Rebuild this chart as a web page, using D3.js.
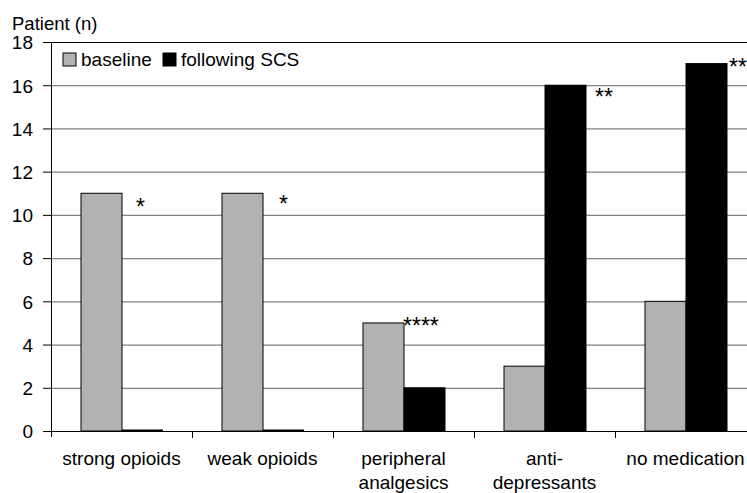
<!DOCTYPE html>
<html>
<head>
<meta charset="utf-8">
<script src="https://cdn.jsdelivr.net/npm/d3@7"></script>
<style>
  body { margin: 0; background: #fff; }
  svg { display: block; font-family: "Liberation Sans", Arial, sans-serif; }
</style>
</head>
<body>
<div id="chart"></div>
<script>
// chart data
var categories = ['strong opioids', 'weak opioids', 'peripheral analgesics', 'anti-depressants', 'no medication'];
var catLines = [['strong opioids'], ['weak opioids'], ['peripheral', 'analgesics'], ['anti-', 'depressants'], ['no medication']];
var seriesNames = ['baseline', 'following SCS'];
var baseline = [11, 11, 5, 3, 6];
var followingSCS = [0, 0, 2, 16, 17];
var yTicks = [0, 2, 4, 6, 8, 10, 12, 14, 16, 18];
var stars = ['*', '*', '****', '**', '**'];
var starLevel = [11, 11, 5, 16, 17];

var width = 747, height = 493;
var margin = { top: 42, right: -9, bottom: 62, left: 51 };

var svg = d3.select('#chart').append('svg')
  .attr('width', width)
  .attr('height', height);

// scales
var x0 = d3.scaleBand().domain(categories).range([margin.left, width - margin.right]).padding(0);
var x1 = d3.scaleBand().domain(seriesNames).range([30, 30 + 82]).padding(0);
var y = d3.scaleLinear().domain([0, 18]).range([height - margin.bottom, margin.top]);
var color = d3.scaleOrdinal().domain(seriesNames).range(['#b2b2b2', '#000000']);

// gridlines
svg.append('g')
  .selectAll('line')
  .data(yTicks.filter(function(d) { return d > 0 && d < 18; }))
  .enter()
  .append('line')
  .attr('x1', margin.left).attr('x2', width)
  .attr('y1', function(d) { return y(d) + 0.5; })
  .attr('y2', function(d) { return y(d) + 0.5; })
  .attr('stroke', '#808080')
  .attr('stroke-width', 1.2);

// top border of plot area
svg.append('line')
  .attr('x1', margin.left).attr('x2', width)
  .attr('y1', y(18) + 0.5).attr('y2', y(18) + 0.5)
  .attr('stroke', '#000').attr('stroke-width', 1.2);

// bars
var rows = categories.map(function(c, i) {
  return { cat: c, vals: [{ key: 'baseline', v: baseline[i] }, { key: 'following SCS', v: followingSCS[i] }] };
});

var groups = svg.append('g')
  .selectAll('g')
  .data(rows)
  .enter()
  .append('g')
  .attr('transform', function(d) { return 'translate(' + x0(d.cat) + ',0)'; });

// zero bars still drawn as a thin black line, like the original
groups.selectAll('rect')
  .data(function(d) { return d.vals; })
  .enter()
  .append('rect')
  .attr('x', function(d) { return x1(d.key); })
  .attr('width', x1.bandwidth())
  .attr('y', function(d) { return Math.min(y(d.v), y(0) - 1.5); })
  .attr('height', function(d) { return Math.max(1.5, y(0) - y(d.v)); })
  .attr('fill', function(d) { return color(d.key); })
  .attr('stroke', '#000')
  .attr('stroke-width', function(d) { return d.v === 0 ? 0 : 1; });

// y axis
var yAxis = svg.append('g')
  .attr('transform', 'translate(' + margin.left + ',0)')
  .call(d3.axisLeft(y).tickValues(yTicks).tickSize(8).tickPadding(10).tickSizeOuter(0));
yAxis.select('.domain').attr('d', 'M0.5,' + y(18) + 'V' + (y(0) + 6));
yAxis.selectAll('text').style('font-size', '19px').attr('fill', '#000').attr('dy', '0.36em');
yAxis.selectAll('line').attr('stroke', '#000');

// x axis
var xAxis = svg.append('g')
  .attr('transform', 'translate(0,' + y(0) + ')');
xAxis.append('line')
  .attr('x1', margin.left).attr('x2', width)
  .attr('y1', 0.5).attr('y2', 0.5)
  .attr('stroke', '#000');
xAxis.selectAll('.tk')
  .data(categories.slice(1))
  .enter()
  .append('line')
  .attr('class', 'tk')
  .attr('x1', function(d) { return x0(d) + 0.5; })
  .attr('x2', function(d) { return x0(d) + 0.5; })
  .attr('y1', 0).attr('y2', 7)
  .attr('stroke', '#000');

// category labels
var labels = svg.append('g')
  .selectAll('text')
  .data(categories)
  .enter()
  .append('text')
  .attr('text-anchor', 'middle')
  .style('font-size', '19px')
  .attr('x', function(d) { return x0(d) + x0.bandwidth() / 2; })
  .attr('y', 465);
labels.each(function(d, i) {
  var t = d3.select(this);
  catLines[i].forEach(function(line, j) {
    t.append('tspan')
      .attr('x', x0(d) + x0.bandwidth() / 2)
      .attr('dy', j === 0 ? 0 : 23.5)
      .text(line);
  });
});

// significance stars
var starDx = [14, 16, -1, 41 + 9, 41 + 2];
var starDy = [22, 19, 11, 20, 11.5];
svg.append('g')
  .selectAll('text')
  .data(stars)
  .enter()
  .append('text')
  .style('font-size', '23px')
  .attr('x', function(d, i) { return x0(categories[i]) + x1('following SCS') + starDx[i]; })
  .attr('y', function(d, i) { return y(starLevel[i]) + starDy[i]; })
  .text(function(d) { return d; });

// y axis title
svg.append('text')
  .attr('x', 12).attr('y', 30)
  .style('font-size', '18.5px')
  .text('Patient (n)');

// legend
var legendX = [63, 163];
var legend = svg.append('g')
  .selectAll('g')
  .data(seriesNames)
  .enter()
  .append('g')
  .attr('transform', function(d, i) { return 'translate(' + legendX[i] + ',53)'; });
legend.append('rect')
  .attr('width', 13).attr('height', 13)
  .attr('fill', function(d) { return color(d); })
  .attr('stroke', '#000').attr('stroke-width', 1);
legend.append('text')
  .attr('x', 18).attr('y', 12.5)
  .style('font-size', '19px')
  .text(function(d) { return d; });
</script>
</body>
</html>
